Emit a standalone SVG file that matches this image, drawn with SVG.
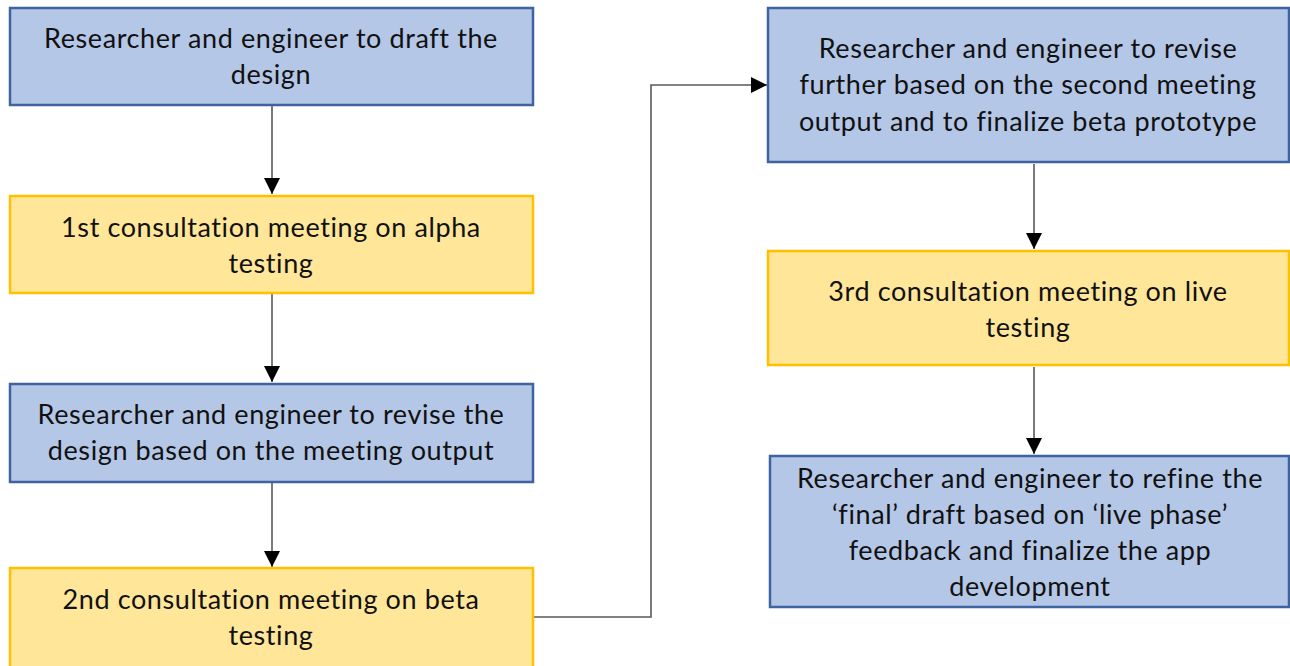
<svg xmlns="http://www.w3.org/2000/svg" width="1290" height="666" viewBox="0 0 1290 666">
  <defs>
    <style>
      .blue { fill: #B4C7E7; stroke: #3F62A0; stroke-width: 2.5; }
      .yellow { fill: #FFE699; stroke: #FFC000; stroke-width: 2.5; }
      .lbl { font-family: Lato, "Open Sans", sans-serif; font-size: 27px; letter-spacing: 0.6px; fill: #111; text-anchor: middle; dominant-baseline: central; }
      .conn { fill: none; stroke: #5a5a5a; stroke-width: 1.6; }
    </style>
    <marker id="arrowL" viewBox="0 0 16 16" refX="16" refY="8" markerWidth="16" markerHeight="16" markerUnits="userSpaceOnUse" orient="auto">
      <path d="M0,0 L16,8 L0,16 Z" fill="#000"/>
    </marker>
  </defs>

  <g id="connectors">
    <path class="conn" d="M272,106 V194" marker-end="url(#arrowL)"/>
    <path class="conn" d="M272,294 V382" marker-end="url(#arrowL)"/>
    <path class="conn" d="M272,483 V567" marker-end="url(#arrowL)"/>
    <path class="conn" d="M534,617 H651 V85 H767" marker-end="url(#arrowL)"/>
    <path class="conn" d="M1034,164 V249" marker-end="url(#arrowL)"/>
    <path class="conn" d="M1034,367 V454" marker-end="url(#arrowL)"/>
  </g>

  <g id="node-draft">
    <rect class="blue" x="10" y="8" width="523" height="97"/>
    <text class="lbl" x="271" y="37">Researcher and engineer to draft the</text>
    <text class="lbl" x="271" y="73">design</text>
  </g>

  <g id="node-alpha">
    <rect class="yellow" x="10" y="196" width="523" height="97"/>
    <text class="lbl" x="271" y="226">1st consultation meeting on alpha</text>
    <text class="lbl" x="271" y="262">testing</text>
  </g>

  <g id="node-revise">
    <rect class="blue" x="10" y="384" width="523" height="98"/>
    <text class="lbl" x="271" y="413">Researcher and engineer to revise the</text>
    <text class="lbl" x="271" y="449">design based on the meeting output</text>
  </g>

  <g id="node-beta">
    <rect class="yellow" x="10" y="568" width="523" height="100"/>
    <text class="lbl" x="271" y="598">2nd consultation meeting on beta</text>
    <text class="lbl" x="271" y="634">testing</text>
  </g>

  <g id="node-finalize-beta">
    <rect class="blue" x="768" y="8" width="521" height="154"/>
    <text class="lbl" x="1028" y="47">Researcher and engineer to revise</text>
    <text class="lbl" x="1028" y="83">further based on the second meeting</text>
    <text class="lbl" x="1028" y="120">output and to finalize beta prototype</text>
  </g>

  <g id="node-live">
    <rect class="yellow" x="768" y="251" width="521" height="114"/>
    <text class="lbl" x="1028" y="290">3rd consultation meeting on live</text>
    <text class="lbl" x="1028" y="326">testing</text>
  </g>

  <g id="node-refine">
    <rect class="blue" x="770" y="456" width="519" height="151"/>
    <text class="lbl" x="1030" y="477">Researcher and engineer to refine the</text>
    <text class="lbl" x="1030" y="513">‘final’ draft based on ‘live phase’</text>
    <text class="lbl" x="1030" y="549">feedback and finalize the app</text>
    <text class="lbl" x="1030" y="585">development</text>
  </g>
</svg>
